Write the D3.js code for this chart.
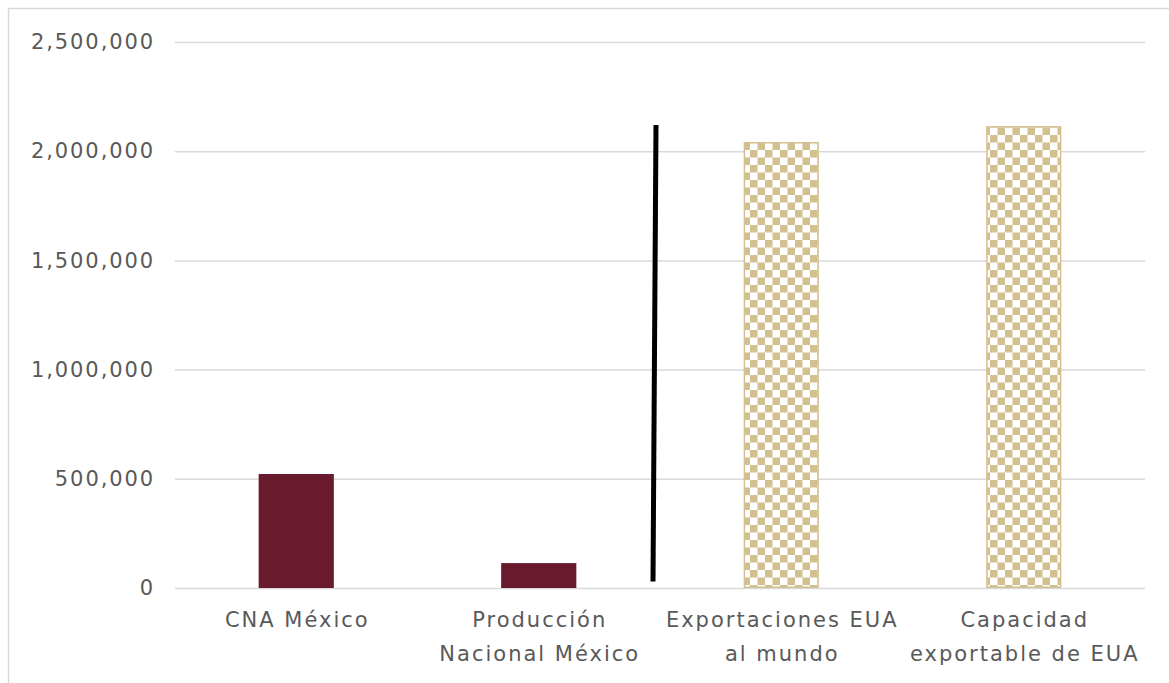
<!DOCTYPE html>
<html><head><meta charset="utf-8">
<script src="https://cdn.jsdelivr.net/npm/d3@7"></script>
<style>
html,body{margin:0;padding:0;background:#fff;}
svg{display:block;}
text{font-family:"DejaVu Sans",sans-serif;fill:#595959;}
</style></head>
<body><svg id="c" width="1169" height="683"></svg>
<script>
const categories = [["CNA México"], ["Producción", "Nacional México"], ["Exportaciones EUA", "al mundo"], ["Capacidad", "exportable de EUA"]];
const values = [522000, 114000, 2042000, 2115000];
const barKinds = ["solid", "solid", "pattern", "pattern"];
const yTicks = [0, 500000, 1000000, 1500000, 2000000, 2500000];
const divider = { after: 1, top: 2120000, bottom: 30000 };

const W = 1169, H = 683;
const m = { left: 175, right: 24, top: 42, bottom: 95 };
const svg = d3.select("#c");

svg.append("rect").attr("x", 8.5).attr("y", 8.5).attr("width", W + 10).attr("height", H + 10)
  .attr("fill", "none").attr("stroke", "#d9d9d9").attr("stroke-width", 1.5);

const defs = svg.append("defs");
const pat = defs.append("pattern").attr("id", "chk").attr("patternUnits", "userSpaceOnUse")
  .attr("width", 15).attr("height", 15);
pat.append("rect").attr("width", 15).attr("height", 15).attr("fill", "#fff");
pat.append("rect").attr("width", 7.5).attr("height", 7.5).attr("fill", "#d3c08f");
pat.append("rect").attr("x", 7.5).attr("y", 7.5).attr("width", 7.5).attr("height", 7.5).attr("fill", "#d3c08f");

const x = d3.scaleBand().domain(d3.range(categories.length)).range([m.left, W - m.right]).paddingInner(0.69).paddingOuter(0.345);
const y = d3.scaleLinear().domain([0, 2500000]).range([H - m.bottom, m.top]);

const fmt = d3.format(",");
const yAxis = svg.append("g").attr("transform", `translate(${m.left},0)`)
  .call(d3.axisLeft(y).tickValues(yTicks).tickFormat(fmt).tickSize(-(W - m.right - m.left)).tickPadding(20));
yAxis.select(".domain").remove();
yAxis.selectAll(".tick line").attr("stroke", "#d9d9d9").attr("stroke-width", 1.5);
yAxis.selectAll(".tick text").attr("fill", "#5f5f5f").style("font-size", "21px")
  .style("font-family", "DejaVu Sans").style("letter-spacing", "1.9px");

const bars = svg.append("g");
values.forEach((v, i) => {
  const isPat = barKinds[i] === "pattern";
  bars.append("rect")
    .attr("x", x(i) + (isPat ? 0.75 : 0)).attr("y", y(v) + (isPat ? 0.75 : 0))
    .attr("width", x.bandwidth() - (isPat ? 1.5 : 0)).attr("height", y(0) - y(v) - (isPat ? 1.5 : 0))
    .attr("fill", isPat ? "url(#chk)" : "#6a1a2d")
    .attr("stroke", isPat ? "#d3c08f" : "none").attr("stroke-width", 1.5);
});

// divider line
const step = x.step();
const dx = x(divider.after) + x.bandwidth() + step * x.paddingInner() / 2;
svg.append("line").attr("x1", dx - 4).attr("y1", y(divider.top)).attr("x2", dx - 7).attr("y2", y(divider.bottom))
  .attr("stroke", "#000").attr("stroke-width", 5);

const lab = svg.append("g");
categories.forEach((lines, i) => {
  const cx = x(i) + x.bandwidth() / 2 + 1;
  const t = lab.append("text").attr("text-anchor", "middle").style("font-size", "21px")
    .style("letter-spacing", "2px").attr("fill", "#5f5f5f")
    .attr("x", cx).attr("y", 627);
  lines.forEach((s, j) => t.append("tspan").attr("x", cx).attr("dy", j ? 34 : 0).text(s));
});
</script></body></html>
